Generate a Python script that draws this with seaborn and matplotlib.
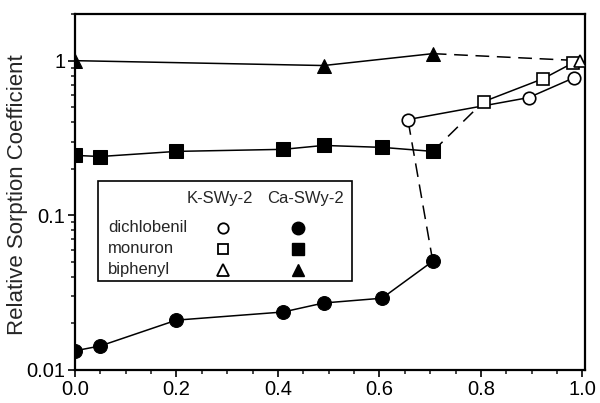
import matplotlib
matplotlib.use('Agg')
import matplotlib.pyplot as plt
from matplotlib.patches import Rectangle
from matplotlib.ticker import MultipleLocator, LogLocator, NullFormatter
import seaborn as sns

# values
ca_x = [0.0, 0.05, 0.20, 0.41, 0.49, 0.605, 0.705]
ca_dichlobenil = [0.0133, 0.0143, 0.0210, 0.0237, 0.0271, 0.0291, 0.0505]
ca_monuron = [0.244, 0.240, 0.259, 0.267, 0.283, 0.275, 0.259]
ca_biph_x = [0.0, 0.49, 0.705]
ca_biphenyl = [1.00, 0.93, 1.11]

k_dich_x = [0.656, 0.894, 0.984]
k_dichlobenil = [0.416, 0.577, 0.777]
k_mon_x = [0.805, 0.923, 0.982]
k_monuron = [0.543, 0.766, 0.970]
k_biph_x = [0.995]
k_biphenyl = [1.00]

compounds = ['dichlobenil', 'monuron', 'biphenyl']
clays = ['K-SWy-2', 'Ca-SWy-2']
markers = ['o', 's', '^']

sns.set_style('ticks')
plt.rcParams['font.family'] = ['Liberation Sans', 'DejaVu Sans']

fig = plt.figure(figsize=(6, 4.03), dpi=100)
ax = fig.add_axes([0.125, 0.082, 0.85, 0.883])

dash = (0, (9, 5))
# dashed links between the Ca and K series
for cx, cy, kx, ky in [(ca_x, ca_dichlobenil, k_dich_x, k_dichlobenil),
                       (ca_x, ca_monuron, k_mon_x, k_monuron),
                       (ca_biph_x, ca_biphenyl, k_biph_x, k_biphenyl)]:
    sns.lineplot(x=[cx[-1], kx[0]], y=[cy[-1], ky[0]], ax=ax, color='black',
                 linewidth=1.1, linestyle=dash, sort=False, estimator=None, zorder=1)

# Ca-SWy-2 (filled)
ca_sets = [(ca_x, ca_dichlobenil), (ca_x, ca_monuron), (ca_biph_x, ca_biphenyl)]
ca_sizes = [10, 9.5, 10]
for (xs, ys), m, ms in zip(ca_sets, markers, ca_sizes):
    sns.lineplot(x=xs, y=ys, ax=ax, color='black', linewidth=1.1, marker=m,
                 markersize=ms, markerfacecolor='black', markeredgecolor='black',
                 sort=False, estimator=None, zorder=3)

# K-SWy-2 (open)
k_sets = [(k_dich_x, k_dichlobenil), (k_mon_x, k_monuron), (k_biph_x, k_biphenyl)]
k_sizes = [9, 8, 9]
for (xs, ys), m, ms in zip(k_sets, markers, k_sizes):
    sns.lineplot(x=xs, y=ys, ax=ax, color='black', linewidth=1.1, marker=m,
                 markersize=ms, markerfacecolor='white', markeredgecolor='black',
                 markeredgewidth=1.2, sort=False, estimator=None, zorder=3)

ax.set_yscale('log')
ax.set_ylim(0.01, 2.0)
ax.set_xlim(0, 1.005)
ax.set_yticks([0.01, 0.1, 1])
ax.set_yticklabels(['0.01', '0.1', '1'])
ax.yaxis.set_minor_locator(LogLocator(base=10, subs=range(2, 10)))
ax.yaxis.set_minor_formatter(NullFormatter())
ax.xaxis.set_major_locator(MultipleLocator(0.2))
ax.xaxis.set_minor_locator(MultipleLocator(0.05))
ax.xaxis.set_major_formatter(plt.FuncFormatter(lambda v, p: f'{v:.1f}'))
ax.tick_params(which='major', direction='out', length=5, width=1.2,
               labelsize=14.5, colors='black', pad=2)
ax.tick_params(which='minor', direction='out', length=3, width=1.2)
ax.set_ylabel('Relative Sorption Coefficient', fontsize=16)
ax.yaxis.set_label_coords(-0.093, 0.494)
ax.set_xlabel('')
for s in ax.spines.values():
    s.set_linewidth(1.6)
    s.set_color('black')

# table-style key
ax.add_patch(Rectangle((0.045, 0.250), 0.498, 0.281, transform=ax.transAxes,
                       facecolor='white', edgecolor='black', linewidth=1.2, zorder=5))
col_x = [0.290, 0.437]
head_x = [0.284, 0.451]
row_y = [0.399, 0.340, 0.281]
k_key_sizes = [7.5, 7.5, 8.5]
for hx, name in zip(head_x, clays):
    ax.text(hx, 0.483, name, transform=ax.transAxes, ha='center', va='center',
            fontsize=12, zorder=6)
for ry, name, m, ks in zip(row_y, compounds, markers, k_key_sizes):
    ax.text(0.065, ry, name, transform=ax.transAxes, ha='left', va='center',
            fontsize=12, zorder=6)
    ax.plot([col_x[0]], [ry], transform=ax.transAxes, marker=m, markersize=ks,
            markerfacecolor='white', markeredgecolor='black', markeredgewidth=1.3,
            linestyle='none', zorder=6, clip_on=False)
    ax.plot([col_x[1]], [ry], transform=ax.transAxes, marker=m, markersize=9,
            markerfacecolor='black', markeredgecolor='black',
            linestyle='none', zorder=6, clip_on=False)

fig.savefig('out.png', dpi=100)
